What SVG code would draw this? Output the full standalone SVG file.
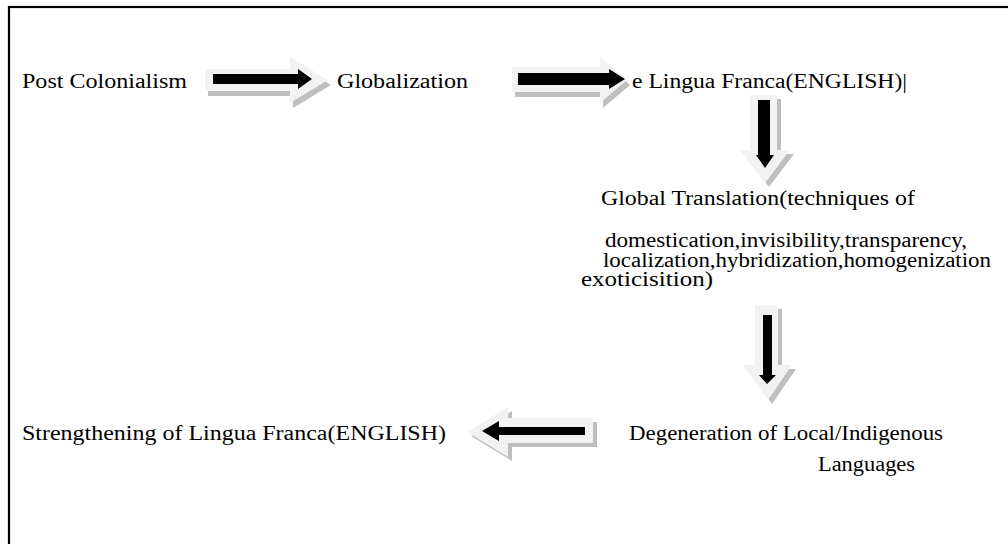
<svg xmlns="http://www.w3.org/2000/svg" width="1008" height="544" viewBox="0 0 1008 544">
<style>
.t{font-family:"Liberation Serif","Times New Roman",serif;font-size:20px;fill:#000}
.lt{fill:#f2f2f2}
.sh{fill:#bfbfbf}
.bk{fill:#000}
</style>
<rect x="0" y="0" width="1008" height="544" fill="#fff"/>
<rect x="9" y="7" width="1010" height="550" fill="none" stroke="#000" stroke-width="2.2"/>
<g id="connectors">
  <g id="arrow1">
    <polygon class="sh" points="208,74 293,74 293,62 331,85 293,108 293,96 208,96"/>
    <polygon class="lt" points="205,69 290,69 290,57 328,80 290,103 290,91 205,91"/>
    <polygon class="bk" points="213,74 298,74 298,69 312,79 298,89 298,84 213,84"/>
  </g>
  <g id="arrow2">
    <polygon class="sh" points="515,72 603,72 603,62 630,85 603,108 603,97 515,97"/>
    <polygon class="lt" points="512,67 600,67 600,57 627,80 600,103 600,92 512,92"/>
    <polygon class="bk" points="518,73 609,73 609,69 625,79 609,89 609,85 518,85"/>
  </g>
  <g id="arrow3">
    <polygon class="sh" points="754,99 781,99 781,154 794,154 769,187 744,154 754,154"/>
    <polygon class="lt" points="750,95 777,95 777,150 790,150 765,183 740,150 750,150"/>
    <polygon class="bk" points="758,100 770,100 770,155 774,155 765,168 756,155 758,155"/>
  </g>
  <g id="arrow4">
    <polygon class="sh" points="759,309 782,309 782,369 796,369 772,404 747,369 759,369"/>
    <polygon class="lt" points="755,305 778,305 778,365 792,365 768,400 743,365 755,365"/>
    <polygon class="bk" points="763,315 772,315 772,375 776,375 767,384 759,375 763,375"/>
  </g>
  <g id="arrow5">
    <polygon class="sh" points="471,436 512,411 512,422 597,422 597,447 512,447 512,461"/>
    <polygon class="lt" points="467,432 508,407 508,418 593,418 593,443 508,443 508,457"/>
    <polygon class="bk" points="482,431 499,421 499,427 585,427 585,435 499,435 499,441"/>
  </g>
</g>
<g id="node-post-colonialism">
  <text class="t" x="22" y="88" textLength="165" lengthAdjust="spacingAndGlyphs">Post Colonialism</text>
</g>
<g id="node-globalization">
  <text class="t" x="337" y="88" textLength="131" lengthAdjust="spacingAndGlyphs">Globalization</text>
</g>
<g id="node-lingua-franca">
  <text class="t" x="632" y="88" textLength="275" lengthAdjust="spacingAndGlyphs">e Lingua Franca(ENGLISH)|</text>
</g>
<g id="node-global-translation">
  <text class="t" x="601" y="205" textLength="314" lengthAdjust="spacingAndGlyphs">Global Translation(techniques of</text>
  <text class="t" x="605" y="247" textLength="362" lengthAdjust="spacingAndGlyphs">domestication,invisibility,transparency,</text>
  <text class="t" x="603" y="267" textLength="388" lengthAdjust="spacingAndGlyphs">localization,hybridization,homogenization</text>
  <text class="t" x="581" y="286" textLength="132" lengthAdjust="spacingAndGlyphs">exoticisition)</text>
</g>
<g id="node-degeneration">
  <text class="t" x="629" y="440" textLength="314" lengthAdjust="spacingAndGlyphs">Degeneration of Local/Indigenous</text>
  <text class="t" x="818" y="471" textLength="97" lengthAdjust="spacingAndGlyphs">Languages</text>
</g>
<g id="node-strengthening">
  <text class="t" x="22" y="440" textLength="424" lengthAdjust="spacingAndGlyphs">Strengthening of Lingua Franca(ENGLISH)</text>
</g>
</svg>
